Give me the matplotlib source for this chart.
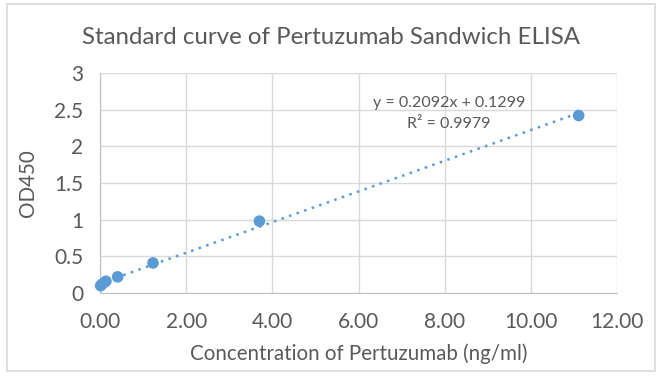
import matplotlib
matplotlib.use("Agg")
import matplotlib.pyplot as plt
import numpy as np
from matplotlib.patches import Rectangle

plt.rcParams['font.family'] = ['Lato', 'DejaVu Sans']

concentration = [0.015, 0.046, 0.137, 0.41, 1.23, 3.70, 11.11]
od450 = [0.10, 0.12, 0.16, 0.22, 0.41, 0.98, 2.42]
slope = 0.2092
intercept = 0.1299
r_squared = 0.9979
x_ticks = [0, 2, 4, 6, 8, 10, 12]
y_ticks = [0, 0.5, 1, 1.5, 2, 2.5, 3]
y_tick_labels = ["0", "0.5", "1", "1.5", "2", "2.5", "3"]

text_color = "#595959"
grid_color = "#d9d9d9"
point_color = "#5b9bd5"

fig = plt.figure(figsize=(6.61, 3.78), dpi=100)
fig.patch.set_facecolor("white")
fig.add_artist(Rectangle((7/661, 1-371/378), (655-7)/661, (371-4)/378,
                         transform=fig.transFigure, fill=False,
                         edgecolor="#d9d9d9", linewidth=1.2))

ax = fig.add_axes([100/661, 1-293/378, 517/661, 220/378])
ax.set_xlim(0, 12)
ax.set_ylim(0, 3)
ax.set_xticks(x_ticks)
ax.set_xticklabels([f"{v:.2f}" for v in x_ticks])
ax.set_yticks(y_ticks)
ax.set_yticklabels(y_tick_labels)
ax.grid(True, color=grid_color, linewidth=1.0)
ax.set_axisbelow(True)
for s in ax.spines.values():
    s.set_visible(False)
ax.spines['bottom'].set_visible(True)
ax.spines['bottom'].set_color("#bfbfbf")
ax.spines['left'].set_visible(True)
ax.spines['left'].set_color("#bfbfbf")
ax.tick_params(length=0, labelsize=15, colors=text_color)
ax.tick_params(axis='x', pad=14)
ax.tick_params(axis='y', pad=12)

xs = np.array([min(concentration), max(concentration)])
ax.plot(xs, slope*xs + intercept, linestyle=(0, (1, 2.2)), color=point_color,
        linewidth=1.8, zorder=2)
ax.scatter(concentration, od450, s=70, color=point_color, zorder=3,
           clip_on=False, edgecolors="none")

ax.text(8.1, 2.45, f"y = {slope}x + {intercept}\nR² = {r_squared}",
        ha="center", va="center", fontsize=11.5, color=text_color,
        linespacing=1.65)

ax.set_xlabel("Concentration of Pertuzumab (ng/ml)", fontsize=14.8,
              color=text_color, labelpad=8)
ax.set_ylabel("OD450", fontsize=14.8, color=text_color, labelpad=12)
fig.text(331/661, 1-37/378, "Standard curve of Pertuzumab Sandwich ELISA",
         ha="center", va="center", fontsize=17.3, color=text_color)

fig.savefig("out.png", dpi=100)
